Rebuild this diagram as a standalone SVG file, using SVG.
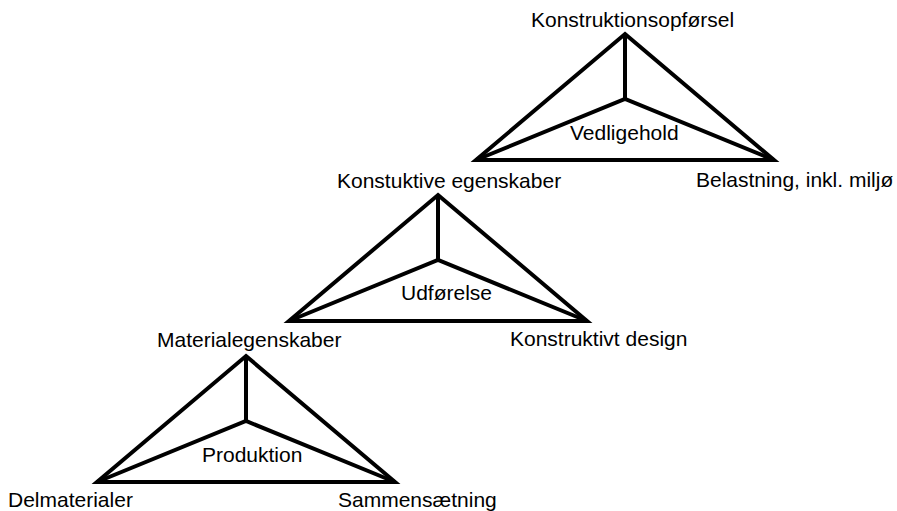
<svg xmlns="http://www.w3.org/2000/svg" width="897" height="511" viewBox="0 0 897 511">
<style>
.t{font-family:"Liberation Sans",Arial,sans-serif;font-size:21px;fill:#000}
.s{fill:none;stroke:#000;stroke-width:4;stroke-linejoin:miter;stroke-linecap:butt}
</style>
<rect width="897" height="511" fill="#fff"/>
<g id="connectors">
<g id="tri1">
<polygon class="s" points="625,34 774,160 476,160"/>
<polyline class="s" points="476,160 625,99 774,160"/>
<line class="s" x1="625" y1="34" x2="625" y2="99"/>
</g>
<g id="tri2">
<polygon class="s" points="438,195 587,321 289,321"/>
<polyline class="s" points="289,321 438,260 587,321"/>
<line class="s" x1="438" y1="195" x2="438" y2="260"/>
</g>
<g id="tri3">
<polygon class="s" points="246,356 395,482 97,482"/>
<polyline class="s" points="97,482 246,421 395,482"/>
<line class="s" x1="246" y1="356" x2="246" y2="421"/>
</g>
</g>
<g id="n-konstruktionsopfoersel"><text class="t" x="531" y="27">Konstruktionsopførsel</text></g>
<g id="n-vedligehold"><text class="t" x="570" y="140">Vedligehold</text></g>
<g id="n-belastning"><text class="t" x="696" y="187">Belastning, inkl. miljø</text></g>
<g id="n-konstuktive"><text class="t" x="337" y="188">Konstuktive egenskaber</text></g>
<g id="n-udfoerelse"><text class="t" x="401" y="300">Udførelse</text></g>
<g id="n-konstruktivt"><text class="t" x="510" y="346">Konstruktivt design</text></g>
<g id="n-materialegenskaber"><text class="t" x="157" y="347">Materialegenskaber</text></g>
<g id="n-produktion"><text class="t" x="202" y="462">Produktion</text></g>
<g id="n-delmaterialer"><text class="t" x="8" y="507">Delmaterialer</text></g>
<g id="n-sammensaetning"><text class="t" x="338" y="507">Sammensætning</text></g>
</svg>
